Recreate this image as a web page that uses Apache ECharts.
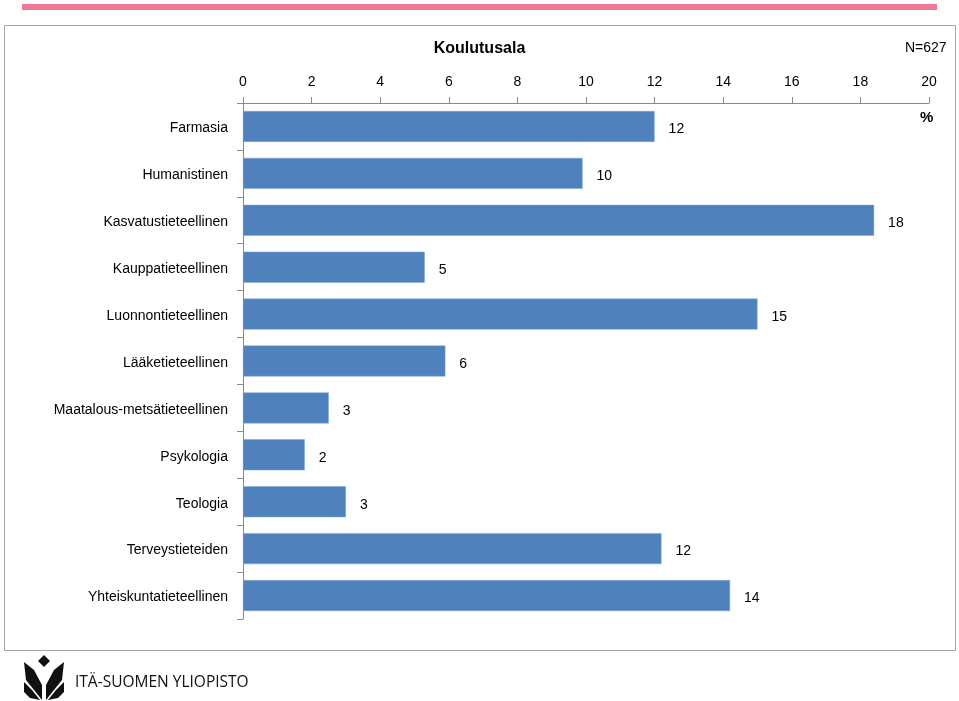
<!DOCTYPE html>
<html>
<head>
<meta charset="utf-8">
<script src="https://cdn.jsdelivr.net/npm/echarts@6/dist/echarts.min.js"></script>
<style>
html,body{margin:0;padding:0;background:#fff;}
#c{width:959px;height:701px;}
</style>
</head>
<body>
<div id="c"></div>
<script>
const categories = ["Farmasia","Humanistinen","Kasvatustieteellinen","Kauppatieteellinen","Luonnontieteellinen","Lääketieteellinen","Maatalous-metsätieteellinen","Psykologia","Teologia","Terveystieteiden","Yhteiskuntatieteellinen"];
const values = [12.0, 9.9, 18.4, 5.3, 15.0, 5.9, 2.5, 1.8, 3.0, 12.2, 14.2];
const axisMin = 0, axisMax = 20, axisStep = 2;
const titleText = "Koulutusala";
const nText = "N=627";
const unitText = "%";
const logoText = "ITÄ-SUOMEN YLIOPISTO";

const font = "Liberation Sans, Arial, sans-serif";
const chart = echarts.init(document.getElementById('c'), null, {renderer:'canvas'});
chart.setOption({
  animation:false,
  backgroundColor:'#fff',
  graphic:[
    {type:'rect', shape:{x:22,y:4,width:915,height:6}, style:{fill:'#EE7A98'}},
    {type:'rect', shape:{x:4.5,y:25.5,width:951,height:625}, style:{fill:'none',stroke:'#a6a6a6',lineWidth:1}},
    {type:'text', left:'center', top:41, style:{text:titleText, font:'bold 16px '+font, fill:'#000'}},
    {type:'text', left:905, top:41, style:{text:nText, font:'14px '+font, fill:'#000'}},
    {type:'text', left:920, top:110, style:{text:unitText, font:'bold 15px '+font, fill:'#000'}},
    {type:'polygon', shape:{points:[[44,655],[50,661],[44,667],[38,661]]}, style:{fill:'#111'}},
    {type:'polygon', shape:{points:[[24,662],[34,670],[42,685],[42,700],[34,690],[26,680]]}, style:{fill:'#111'}},
    {type:'polygon', shape:{points:[[64,662],[54,670],[46,685],[46,700],[54,690],[62,680]]}, style:{fill:'#111'}},
    {type:'polygon', shape:{points:[[24,682],[32,690],[40,700],[30,698],[24,692]]}, style:{fill:'#111'}},
    {type:'polygon', shape:{points:[[64,682],[56,690],[48,700],[58,698],[64,692]]}, style:{fill:'#111'}},
    {type:'text', left:75, top:675, style:{text:logoText, font:'15.5px Open Sans, sans-serif', fill:'#111'}}
  ],
  grid:{left:243, right:30, top:103, bottom:82, containLabel:false},
  xAxis:{
    type:'value', position:'top', min:axisMin, max:axisMax, interval:axisStep,
    axisLine:{show:true, lineStyle:{color:'#888'}},
    axisTick:{show:true, length:6, lineStyle:{color:'#888'}},
    axisLabel:{color:'#000', fontSize:14, fontFamily:font, margin:14},
    splitLine:{show:false}
  },
  yAxis:{
    type:'category', data:categories, inverse:true,
    axisLine:{show:true, lineStyle:{color:'#888'}},
    axisTick:{show:true, length:6, lineStyle:{color:'#888'}},
    axisLabel:{margin:15, formatter:v=>'{a|'+v+'}',
      rich:{a:{color:'#000', fontSize:14, fontFamily:font, padding:[4,0,0,0]}}}
  },
  series:[{
    type:'bar', data:values, barCategoryGap:'34%',
    itemStyle:{color:'#4F81BD', borderColor:'#7ea6d6', borderWidth:0.5},
    label:{show:true, position:'right', distance:14, offset:[0,3], color:'#000', fontSize:14, fontFamily:font,
      formatter:p=>Math.round(p.value)}
  }]
});
</script>
</body>
</html>
